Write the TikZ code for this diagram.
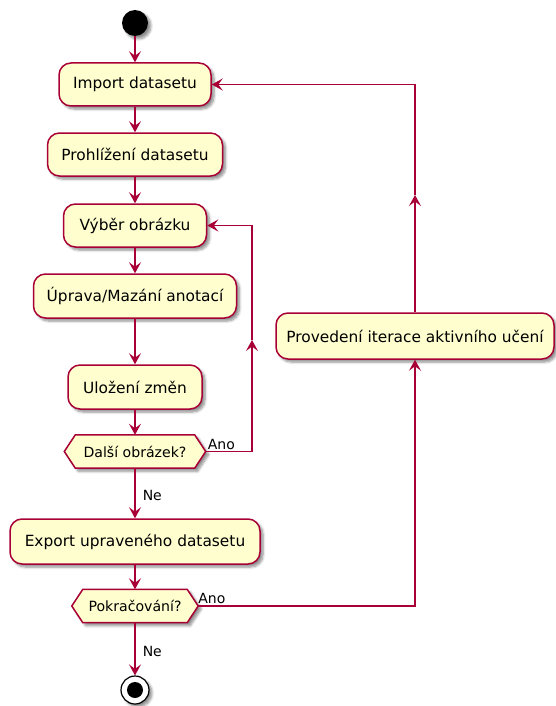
\documentclass[tikz,border=0pt]{standalone}
\usepackage{fontspec}
\setmainfont{DejaVu Sans}
\usetikzlibrary{arrows.meta,shadows.blur,backgrounds}
\definecolor{umlred}{HTML}{A80036}
\definecolor{umlfill}{HTML}{FEFECE}

\begin{document}
\begin{tikzpicture}[x=1pt,y=-1pt,
  shade3/.style={blur shadow={shadow xshift=3pt, shadow yshift=-3pt,
      shadow blur radius=2.5pt, shadow blur steps=6, shadow opacity=45}},
  act/.style={draw=umlred, fill=umlfill, line width=1.5pt, rounded corners=12pt,
      inner sep=0pt, text=black, font=\fontsize{15.4}{18}\selectfont, shade3},
  dtext/.style={inner sep=0pt, text=black, font=\fontsize{14.1}{17}\selectfont},
  hexbox/.style={draw=umlred, fill=umlfill, line width=1.5pt, shade3},
  lbl/.style={inner sep=0pt, text=black, font=\fontsize{14}{17}\selectfont},
  flow/.style={draw=umlred, line width=1.5pt,
      -{Stealth[length=11pt, width=12pt, inset=4.5pt]}},
]
\useasboundingbox (0,0) rectangle (555,706);

% start and end markers
\node[circle, fill=black, minimum size=26pt, inner sep=0pt, shade3] (start) at (135,23) {};
\node[circle, draw=black, fill=white, line width=1.2pt, minimum size=28pt,
      inner sep=0pt, shade3] (stop) at (135,690) {};
\node[circle, fill=black, minimum size=16pt, inner sep=0pt] at (stop) {};

% activities
\node[act, minimum width=152pt, minimum height=43pt] (imp)  at (135,84.5)  {Import datasetu};
\node[act, minimum width=175pt, minimum height=43pt] (proh) at (135,154.5) {Prohlížení datasetu};
\node[act, minimum width=143pt, minimum height=43pt] (vyb)  at (135,225.5) {Výběr obrázku};
\node[act, minimum width=203pt, minimum height=44pt] (upr)  at (135,296)   {Úprava/Mazání anotací};
\node[act, minimum width=134pt, minimum height=44pt] (ulo)  at (135,387)   {Uložení změn};
\node[act, minimum width=250pt, minimum height=45pt] (exp)  at (135,541.5) {Export upraveného datasetu};
\node[act, minimum width=278pt, minimum height=46pt] (prov) at (415,336)   {Provedení iterace aktivního učení};

% decisions
\node[dtext, minimum width=141pt, minimum height=33pt] (dal) at (135,451.5) {Další obrázek?};
\node[dtext, minimum width=126pt, minimum height=33pt] (pok) at (135,606)   {Pokračování?};
\begin{scope}[on background layer]
  \foreach \d in {dal,pok}{
    \draw[hexbox] (\d.west) -- ([xshift=11pt]\d.north west) -- ([xshift=-11pt]\d.north east)
      -- (\d.east) -- ([xshift=-11pt]\d.south east) -- ([xshift=11pt]\d.south west) -- cycle;
  }
\end{scope}

% main flow
\draw[flow] (start) -- (imp);
\draw[flow] (imp) -- (proh);
\draw[flow] (proh) -- (vyb);
\draw[flow] (vyb) -- (upr);
\draw[flow] (upr) -- (ulo);
\draw[flow] (ulo) -- (dal);
\draw[flow] (dal) -- node[lbl, anchor=west, xshift=7pt, yshift=-2pt] {Ne} (exp);
\draw[flow] (exp) -- (pok);
\draw[flow] (pok) -- node[lbl, anchor=west, xshift=7pt, yshift=-2pt] {Ne} (stop);

% inner loop: next image
\coordinate (loopA) at (252,340);
\draw[flow] (dal.east) -| (loopA);
\draw[flow] (loopA) |- (vyb.east);
\node[lbl, anchor=south west] at ([xshift=2pt, yshift=2pt]dal.east) {Ano};

% outer loop: active learning iteration
\coordinate (loopB) at (415,195);
\draw[flow] (pok.east) -| (prov.south);
\draw[flow] (prov.north) -- (loopB);
\draw[flow] (loopB) |- (imp.east);
\node[lbl, anchor=south west] at ([xshift=0pt, yshift=2pt]pok.east) {Ano};
\end{tikzpicture}
\end{document}
